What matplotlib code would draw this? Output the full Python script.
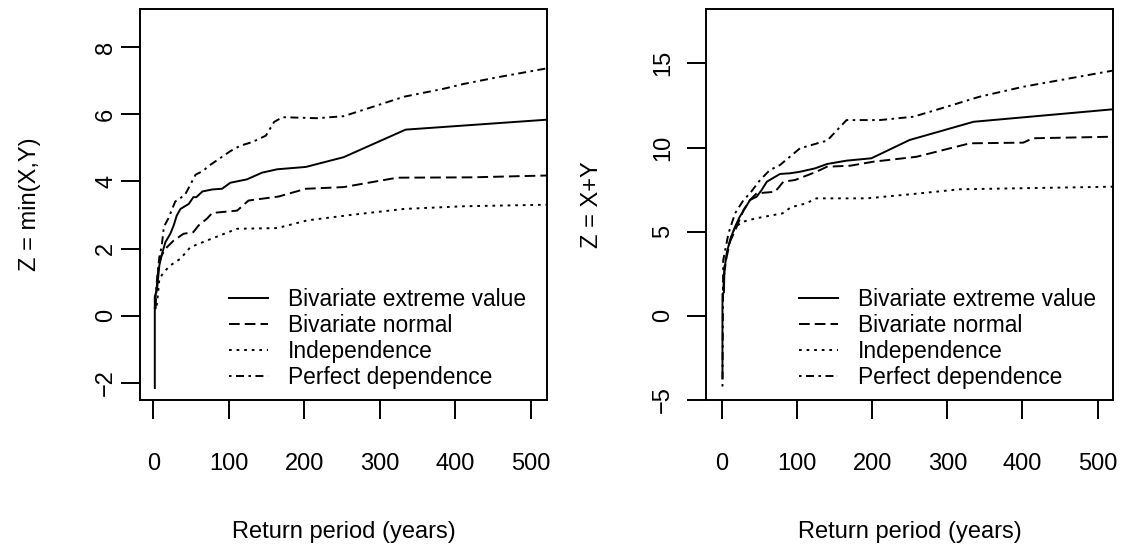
import matplotlib
matplotlib.use("Agg")
import matplotlib.pyplot as plt

plt.rcParams["font.family"] = ["Liberation Sans", "DejaVu Sans"]

# left panel: Z = min(X,Y)
min_x_bev = [2, 2, 5, 8, 11, 16, 22.5, 27, 31, 36, 47, 53, 57, 65, 78, 91, 102, 124, 144, 164, 202, 252, 334, 530]
min_y_bev = [-2.15, 0.57, 0.8, 1.5, 1.8, 2.19, 2.44, 2.69, 2.98, 3.18, 3.33, 3.53, 3.53, 3.7, 3.76, 3.78, 3.96, 4.06, 4.26, 4.36, 4.43, 4.72, 5.54, 5.85]
min_x_bvn = [3, 4, 7, 11, 18, 27, 40, 53, 60, 71, 78, 111, 126, 166, 202, 252, 323, 420, 530]
min_y_bvn = [0.2, 0.7, 1.5, 1.8, 2.04, 2.24, 2.44, 2.49, 2.69, 2.89, 3.06, 3.13, 3.43, 3.55, 3.78, 3.83, 4.11, 4.12, 4.18]
min_x_ind = [4, 5, 8, 14, 22.5, 36, 49, 71, 111, 164, 204, 261, 332, 411, 530]
min_y_ind = [0.3, 0.36, 1.1, 1.3, 1.5, 1.7, 2.04, 2.24, 2.59, 2.61, 2.84, 3.0, 3.18, 3.26, 3.31]
min_x_pd = [2, 2.7, 5, 8, 11, 14, 20, 29, 42, 56, 65, 76, 102, 115, 131, 149, 160, 171, 217, 252, 288, 332, 385, 411, 456, 530]
min_y_pd = [0.2, 0.5, 1.1, 1.75, 2.05, 2.65, 2.9, 3.4, 3.6, 4.2, 4.3, 4.5, 4.9, 5.06, 5.17, 5.36, 5.77, 5.91, 5.88, 5.94, 6.2, 6.52, 6.76, 6.9, 7.1, 7.4]

# right panel: Z = X+Y
sum_x_bev = [1, 1, 3, 3.5, 6.6, 11, 17.7, 24, 31, 37.6, 46.5, 53, 60, 77.5, 91, 104, 124, 140, 166, 199, 250, 335, 530]
sum_y_bev = [-3.7, 1.3, 1.4, 2.7, 3.71, 4.5, 5.29, 5.89, 6.39, 6.88, 7.08, 7.47, 7.97, 8.43, 8.47, 8.56, 8.76, 9.02, 9.22, 9.36, 10.45, 11.53, 12.31]
sum_x_bvn = [2, 3.5, 6.6, 11, 20, 29, 37.6, 46.5, 71, 82, 97.5, 126, 140, 171, 202, 259, 330, 401, 414, 530]
sum_y_bvn = [1.5, 2.6, 3.5, 4.4, 5.3, 6.29, 6.88, 7.28, 7.37, 7.97, 8.07, 8.56, 8.86, 8.92, 9.16, 9.45, 10.25, 10.29, 10.55, 10.65]
sum_x_ind = [2, 4, 11, 17.7, 29, 45, 81, 92, 112, 126, 193, 255, 317, 530]
sum_y_ind = [1.5, 3.1, 4.5, 5.29, 5.6, 5.79, 6.09, 6.45, 6.68, 6.98, 6.98, 7.24, 7.52, 7.68]
sum_x_pd = [1, 2, 9, 17.7, 29, 37.6, 51, 64, 77.5, 104, 135, 140, 166, 210, 255, 299, 343, 401, 530]
sum_y_pd = [-4.2, 3.3, 4.9, 6.09, 6.88, 7.28, 8.07, 8.66, 8.96, 9.95, 10.35, 10.4, 11.63, 11.63, 11.83, 12.42, 13.02, 13.61, 14.65]

labels = ["Bivariate extreme value", "Bivariate normal", "Independence", "Perfect dependence"]
styles = ["-", (0, (5.5, 2.6)), (0, (1.4, 2.5)), (0, (1.3, 2.3, 4.1, 2.3))]

min_ticks = [-2, 0, 2, 4, 6, 8]
sum_ticks = [-5, 0, 5, 10, 15]
x_ticks = [0, 100, 200, 300, 400, 500]

W, H = 1123, 546


def setup_panel(ax, series, ylim, yticks, ylabel, ylabel_x, ypad, legend_x, xlim):
    for (x, y), ls, lab in zip(series, styles, labels):
        ax.plot(x, y, color="black", lw=1.4, linestyle=ls, label=lab)

    ax.set_xlim(*xlim)
    ax.set_ylim(*ylim)
    ax.set_xticks(x_ticks)
    ax.set_yticks(yticks)
    for s in ax.spines.values():
        s.set_linewidth(1.4)

    ax.tick_params(direction="out", length=13.5, width=1.4, labelsize=17)
    ax.tick_params(axis="x", pad=25)
    ax.tick_params(axis="y", pad=ypad, labelrotation=90)
    for t in ax.get_yticklabels():
        t.set_verticalalignment("center")

    ax.set_xlabel("Return period (years)", fontsize=17)
    ax.xaxis.set_label_coords(0.5, -0.3095)
    ax.set_ylabel(ylabel, fontsize=17)
    ax.yaxis.set_label_coords(ylabel_x, 0.5)

    ax.legend(loc="center left", bbox_to_anchor=(legend_x, 0.1575), frameon=False,
              fontsize=16.4, handlelength=1.72, handletextpad=0.88, labelspacing=0.12,
              borderpad=0, borderaxespad=0)


def main():
    fig = plt.figure(figsize=(W / 100, H / 100), dpi=100)
    ax1 = fig.add_axes([140 / W, 146 / H, 407 / W, 391 / H])
    ax2 = fig.add_axes([706 / W, 146 / H, 407 / W, 391 / H])

    setup_panel(ax1,
                [(min_x_bev, min_y_bev), (min_x_bvn, min_y_bvn), (min_x_ind, min_y_ind), (min_x_pd, min_y_pd)],
                (-2.506, 9.13), min_ticks, "Z = min(X,Y)", -0.243, 3, 0.2187, (-17.6, 521.2))
    setup_panel(ax2,
                [(sum_x_bev, sum_y_bev), (sum_x_bvn, sum_y_bvn), (sum_x_ind, sum_y_ind), (sum_x_pd, sum_y_pd)],
                (-5.0, 18.23), sum_ticks, "Z = X+Y", -0.253, 9.4, 0.2285, (-20.9, 520.4))

    fig.savefig("out.png", dpi=100)


if __name__ == "__main__":
    main()
